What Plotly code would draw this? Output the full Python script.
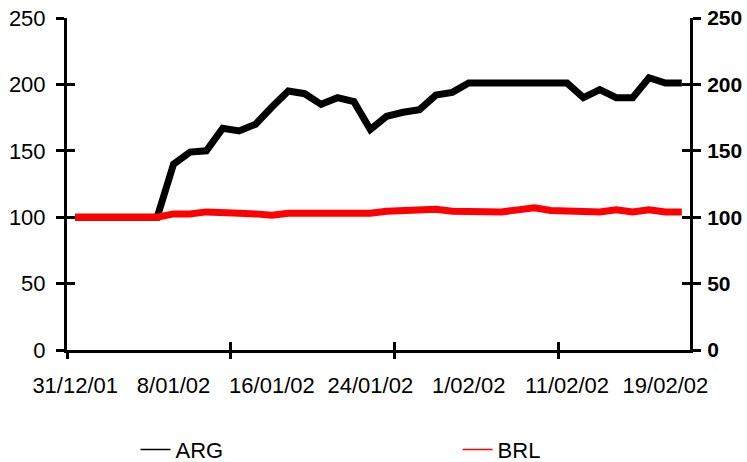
import plotly.graph_objects as go

# Trading days (category axis)
dates = [
    "31/12/01", "1/01/02", "2/01/02", "3/01/02", "4/01/02",
    "7/01/02", "8/01/02", "9/01/02", "10/01/02", "11/01/02",
    "14/01/02", "15/01/02", "16/01/02", "17/01/02", "18/01/02",
    "21/01/02", "22/01/02", "23/01/02", "24/01/02", "25/01/02",
    "28/01/02", "29/01/02", "30/01/02", "31/01/02", "1/02/02",
    "4/02/02", "5/02/02", "6/02/02", "7/02/02", "8/02/02",
    "11/02/02", "12/02/02", "13/02/02", "14/02/02", "15/02/02",
    "18/02/02", "19/02/02", "20/02/02",
]

# Index values (31/12/01 = 100)
arg = [100, 100, 100, 100, 100, 100, 140, 149, 150, 167,
       165, 170, 183, 195, 193, 185, 190, 187, 166, 176,
       179, 181, 192, 194, 201, 201, 201, 201, 201, 201,
       201, 190, 196, 190, 190, 205, 201, 201]
brl = [100, 100, 100, 99, 100, 100, 102.5, 102.5, 104, 104,
       103, 102.5, 101.5, 103, 103, 103, 103, 103, 103, 104.5,
       105, 106, 106, 104.5, 104, 104, 104, 105.5, 107, 105,
       105, 105, 104, 105.5, 104, 105.5, 104, 104]

y_ticks = [0, 50, 100, 150, 200, 250]
label_step = 6
tick_mark_step = 10

idx = list(range(len(dates)))
x_range = [-0.5, len(dates) - 0.5]
y_range = [0, 250]
font_family = "Liberation Sans, Arial, sans-serif"
fs = 22

fig = go.Figure()
# Data lines (thick)
fig.add_trace(go.Scatter(x=idx, y=arg, name="ARG", mode="lines",
                         line=dict(color="black", width=7),
                         showlegend=False))
fig.add_trace(go.Scatter(x=idx, y=brl, name="BRL", mode="lines",
                         line=dict(color="#ff0000", width=7),
                         showlegend=False, xaxis="x2", yaxis="y2"))
# Legend keys (thin lines, no data)
fig.add_trace(go.Scatter(x=[None], y=[None], name="ARG", mode="lines",
                         line=dict(color="black", width=1.5),
                         legend="legend"))
fig.add_trace(go.Scatter(x=[None], y=[None], name="BRL", mode="lines",
                         line=dict(color="#ff0000", width=1.5),
                         legend="legend2"))
# Empty traces so the inner tick axes get drawn (ticks crossing the axes)
fig.add_trace(go.Scatter(x=[], y=[], xaxis="x3", yaxis="y3",
                         showlegend=False, hoverinfo="skip"))
fig.add_trace(go.Scatter(x=[], y=[], xaxis="x3", yaxis="y4",
                         showlegend=False, hoverinfo="skip"))

boundaries = [i - 0.5 for i in range(0, len(dates), tick_mark_step)]

axis_common = dict(showgrid=False, zeroline=False, fixedrange=True,
                   automargin=False)
legend_common = dict(orientation="h", xanchor="left", y=-0.30,
                     yanchor="middle",
                     font=dict(family=font_family, size=fs, color="black"),
                     bgcolor="rgba(0,0,0,0)", itemclick=False,
                     itemdoubleclick=False)

fig.update_layout(
    width=747, height=462,
    margin=dict(l=67, r=57, t=18, b=112, autoexpand=False),
    paper_bgcolor="white", plot_bgcolor="white",
    font=dict(family=font_family, size=fs, color="black"),
    xaxis=dict(range=x_range, tickmode="array",
               tickvals=idx[::label_step], ticktext=dates[::label_step],
               ticks="", showline=True, linecolor="black", linewidth=3,
               ticklabelstandoff=14, **axis_common),
    xaxis2=dict(range=x_range, overlaying="x", anchor="y2", tickmode="array",
                tickvals=boundaries, ticks="outside", ticklen=8, tickwidth=3,
                tickcolor="black", showticklabels=False, showline=False,
                **axis_common),
    xaxis3=dict(range=x_range, overlaying="x", anchor="y3", tickmode="array",
                tickvals=boundaries, ticks="inside", ticklen=8, tickwidth=3,
                tickcolor="black", showticklabels=False, showline=False,
                **axis_common),
    yaxis=dict(range=y_range, tickmode="array", tickvals=y_ticks,
               ticks="outside", ticklen=8, tickwidth=3, tickcolor="black",
               showline=True, linecolor="black", linewidth=3,
               ticklabelstandoff=6, **axis_common),
    yaxis2=dict(range=y_range, overlaying="y", anchor="x2", side="right",
                tickmode="array", tickvals=y_ticks,
                ticks="outside", ticklen=8, tickwidth=3, tickcolor="black",
                showline=True, linecolor="black", linewidth=3,
                tickfont=dict(family=font_family, size=21, color="black",
                              weight="bold"),
                ticklabelstandoff=2, **axis_common),
    yaxis3=dict(range=y_range, overlaying="y", anchor="x3", side="left",
                tickmode="array", tickvals=y_ticks, ticks="inside", ticklen=8,
                tickwidth=3, tickcolor="black", showticklabels=False,
                showline=False, **axis_common),
    yaxis4=dict(range=y_range, overlaying="y", anchor="x3", side="right",
                tickmode="array", tickvals=y_ticks, ticks="inside", ticklen=8,
                tickwidth=3, tickcolor="black", showticklabels=False,
                showline=False, **axis_common),
    legend=dict(x=0.11, **legend_common),
    legend2=dict(x=0.627, **legend_common),
)

fig.write_html("out.html")
